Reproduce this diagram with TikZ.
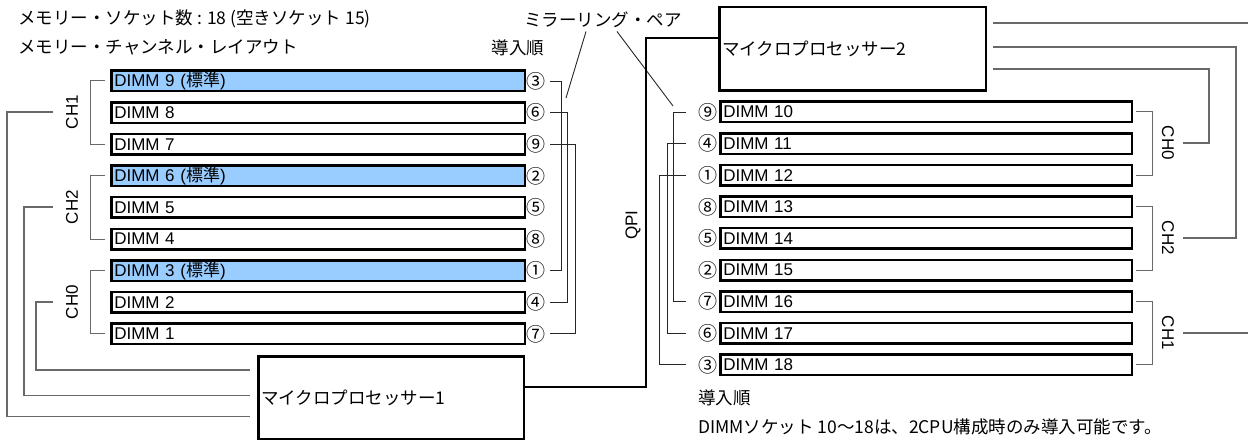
\documentclass[tikz,border=0pt]{standalone}
\usepackage{fontspec}
\setmainfont{Noto Sans CJK JP}
\newfontfamily\latinfont{Liberation Sans}
\usetikzlibrary{positioning}
\definecolor{dimmblue}{RGB}{153,204,255}
\definecolor{linegray}{RGB}{105,105,105}
\tikzset{
  lat/.style={font=\latinfont\fontsize{17}{20}\selectfont},
  dimm/.style={draw,line width=2.5pt,anchor=west,minimum height=20.5pt,text width=407.5pt,inner xsep=3pt,inner ysep=0pt,align=left,lat},
  rdimm/.style={dimm,text width=405.5pt},
  num/.style={inner sep=0pt,font=\fontsize{19}{22}\selectfont},
  cpu/.style={draw,line width=2.5pt,anchor=north west,align=left,inner xsep=3pt},
  txt/.style={inner sep=0pt,anchor=west},
  chline/.style={draw=linegray,line width=1pt},
  bus/.style={draw=linegray,line width=1.3pt},
  pair/.style={draw=black!85,line width=0.9pt},
  qpiline/.style={draw=black,line width=2pt}
}
\begin{document}
\begin{tikzpicture}[x=1pt,y=-1pt,font=\fontsize{17.5}{20}\selectfont]
\useasboundingbox (0,0) rectangle (1248,441);

\node[txt] (count) at (18,19) {メモリー・ソケット数 : 18 (空きソケット 15)};
\node[txt] (layout) at (18,47) {メモリー・チャンネル・レイアウト};
\node (order1) at (518,48) {導入順};
\node (mirror) at (603,20) {ミラーリング・ペア};

\node[dimm,fill=dimmblue] (d9) at (110,81) {DIMM 9 ({\rmfamily 標準})};
\node[dimm] (d8) at (110,112.6) {DIMM 8};
\node[dimm] (d7) at (110,144.2) {DIMM 7};
\node[dimm,fill=dimmblue] (d6) at (110,175.8) {DIMM 6 ({\rmfamily 標準})};
\node[dimm] (d5) at (110,207.4) {DIMM 5};
\node[dimm] (d4) at (110,239) {DIMM 4};
\node[dimm,fill=dimmblue] (d3) at (110,270.6) {DIMM 3 ({\rmfamily 標準})};
\node[dimm] (d2) at (110,302.2) {DIMM 2};
\node[dimm] (d1) at (110,333.8) {DIMM 1};

\node[num,right=0.5pt of d9] (n9) {③};
\node[num,right=0.5pt of d8] (n8) {⑥};
\node[num,right=0.5pt of d7] (n7) {⑨};
\node[num,right=0.5pt of d6] (n6) {②};
\node[num,right=0.5pt of d5] (n5) {⑤};
\node[num,right=0.5pt of d4] (n4) {⑧};
\node[num,right=0.5pt of d3] (n3) {①};
\node[num,right=0.5pt of d2] (n2) {④};
\node[num,right=0.5pt of d1] (n1) {⑦};

\node[rdimm] (d10) at (719,112) {DIMM 10};
\node[rdimm] (d11) at (719,143.6) {DIMM 11};
\node[rdimm] (d12) at (719,175.2) {DIMM 12};
\node[rdimm] (d13) at (719,206.8) {DIMM 13};
\node[rdimm] (d14) at (719,238.4) {DIMM 14};
\node[rdimm] (d15) at (719,270) {DIMM 15};
\node[rdimm] (d16) at (719,301.6) {DIMM 16};
\node[rdimm] (d17) at (719,333.2) {DIMM 17};
\node[rdimm] (d18) at (719,364.8) {DIMM 18};

\node[num,left=1.5pt of d10] (n10) {⑨};
\node[num,left=1.5pt of d11] (n11) {④};
\node[num,left=1.5pt of d12] (n12) {①};
\node[num,left=1.5pt of d13] (n13) {⑧};
\node[num,left=1.5pt of d14] (n14) {⑤};
\node[num,left=1.5pt of d15] (n15) {②};
\node[num,left=1.5pt of d16] (n16) {⑦};
\node[num,left=1.5pt of d17] (n17) {⑥};
\node[num,left=1.5pt of d18] (n18) {③};

\node[cpu,minimum width=265.5pt,minimum height=82.5pt,text width=259.5pt] (cpu1) at (257,355) {マイクロプロセッサー1};
\node[cpu,minimum width=266.5pt,minimum height=83.5pt,text width=260.5pt] (cpu2) at (718,6) {マイクロプロセッサー2};

\node[lat,rotate=90] (ch1) at (72,112) {CH1};
\node[lat,rotate=90] (ch2) at (72,207) {CH2};
\node[lat,rotate=90] (ch0) at (72,302) {CH0};
\node[lat,rotate=-90] (rch0) at (1168,143) {CH0};
\node[lat,rotate=-90] (rch2) at (1168,238) {CH2};
\node[lat,rotate=-90] (rch1) at (1168,333) {CH1};
\node[lat,rotate=90] (qpi) at (633,225) {QPI};

\node[txt] (order2) at (698,398) {導入順};
\node[txt] (note) at (698,427) {DIMMソケット 10〜18は、2CPU構成時のみ導入可能です。};

\coordinate (mpl) at (566,98);
\coordinate (mpr) at (673,106);
\coordinate (cpu2out) at (1252,23);
\coordinate (rch1out) at (1252,333);

\draw[pair] ([xshift=-17pt]mirror.south) -- (mpl);
\draw[pair] ([xshift=14pt]mirror.south) -- (mpr);

\draw[pair] ([xshift=4.5pt]n9.east) -| ([xshift=15.5pt]n3.east) -- ([xshift=4.5pt]n3.east);
\draw[pair] ([xshift=4.5pt]n8.east) -| ([xshift=22pt]n2.east) -- ([xshift=4.5pt]n2.east);
\draw[pair] ([xshift=4.5pt]n7.east) -| ([xshift=29.5pt]n1.east) -- ([xshift=4.5pt]n1.east);

\draw[pair] ([xshift=-12.5pt]n10.west) -| ([xshift=-24.5pt]n16.west) -- ([xshift=-12.5pt]n16.west);
\draw[pair] ([xshift=-12.5pt]n11.west) -| ([xshift=-30.5pt]n17.west) -- ([xshift=-12.5pt]n17.west);
\draw[pair] ([xshift=-12.5pt]n12.west) -| ([xshift=-38.5pt]n18.west) -- ([xshift=-12.5pt]n18.west);

\draw[chline] ([xshift=-5pt]d9.west) -- ++(-15,0) |- ([xshift=-5pt]d7.west);
\draw[chline] ([xshift=-5pt]d6.west) -- ++(-15,0) |- ([xshift=-5pt]d4.west);
\draw[chline] ([xshift=-5pt]d3.west) -- ++(-15,0) |- ([xshift=-5pt]d1.west);
\draw[chline] ([xshift=3pt]d10.east) -- ++(16,0) |- ([xshift=3pt]d12.east);
\draw[chline] ([xshift=3pt]d13.east) -- ++(16,0) |- ([xshift=3pt]d15.east);
\draw[chline] ([xshift=3pt]d16.east) -- ++(16,0) |- ([xshift=3pt]d18.east);

\draw[bus] ([xshift=-19pt]ch1.center) -- ++(-46,0) |- ([xshift=-7pt,yshift=-19pt]cpu1.west);
\draw[bus] ([xshift=-19pt]ch2.center) -- ++(-29,0) |- ([xshift=-7pt,yshift=2pt]cpu1.west);
\draw[bus] ([xshift=-19pt]ch0.center) -- ++(-17,0) |- ([xshift=-7pt,yshift=27.5pt]cpu1.west);
\draw[bus] ([xshift=15pt]rch0.center) -- ++(26,0) |- ([xshift=6pt,yshift=-20pt]cpu2.east);
\draw[bus] ([xshift=15pt]rch2.center) -- ++(53,0) |- ([xshift=6pt,yshift=2pt]cpu2.east);
\draw[bus] ([xshift=15pt]rch1.center) -- (rch1out);
\draw[bus] ([xshift=6pt,yshift=26pt]cpu2.east) -- (cpu2out);

\draw[qpiline] ([yshift=10.5pt]cpu1.east) -- ++(121,0) |- ([yshift=11pt]cpu2.west);
\end{tikzpicture}
\end{document}
